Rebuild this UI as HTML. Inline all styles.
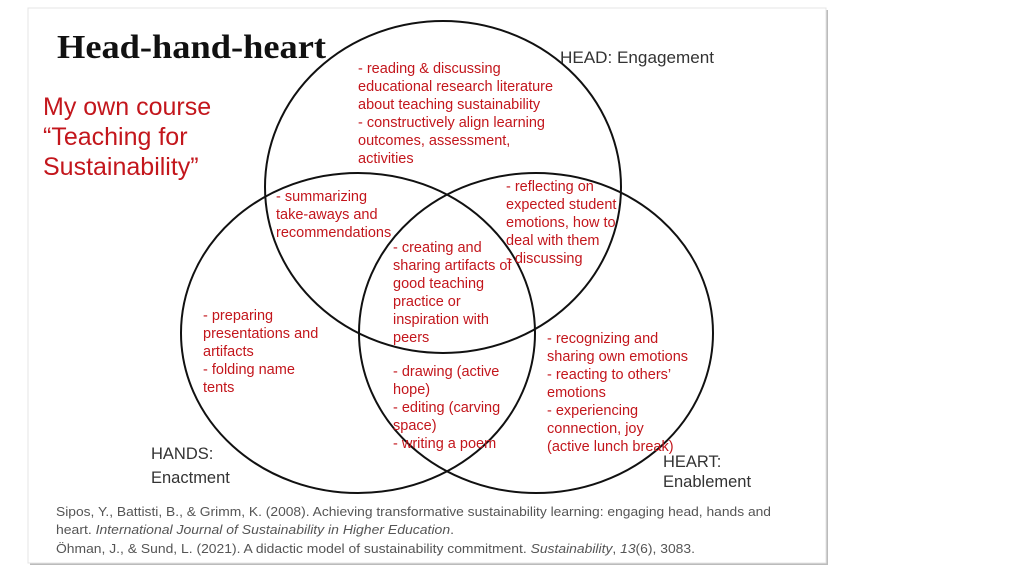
<!DOCTYPE html>
<html><head><meta charset="utf-8"><style>
html,body{margin:0;padding:0;background:#fff;}
svg{display:block;}
.r{font-family:"Liberation Sans",Arial,sans-serif;font-size:14.5px;fill:#c3161c;}
.g{font-family:"Liberation Sans",Arial,sans-serif;fill:#333;}
.c{font-family:"Liberation Sans",Arial,sans-serif;font-size:12.5px;fill:#555;}
</style></head><body>
<svg width="1024" height="576" viewBox="0 0 1024 576" xmlns="http://www.w3.org/2000/svg">
<rect x="30" y="10" width="798" height="555" fill="#bbb"/>
<rect x="28" y="8" width="798" height="555" fill="#fff" stroke="#e4e4e4" stroke-width="1"/>
<text x="57" y="58" font-family="'Liberation Serif',serif" font-weight="bold" font-size="34" fill="#111" textLength="269" lengthAdjust="spacingAndGlyphs">Head-hand-heart</text>
<g font-family="'Liberation Sans',Arial,sans-serif" font-size="25" fill="#c3161c">
<text x="43" y="115">My own course</text>
<text x="43" y="145">“Teaching for</text>
<text x="43" y="175">Sustainability”</text>
</g>
<g fill="none" stroke="#111" stroke-width="2">
<ellipse cx="443" cy="187" rx="178" ry="166"/>
<ellipse cx="358" cy="333" rx="177" ry="160"/>
<ellipse cx="536" cy="333" rx="177" ry="160"/>
</g>
<text class="g" x="560" y="63" font-size="16.5" textLength="154" lengthAdjust="spacingAndGlyphs">HEAD: Engagement</text>
<text class="g" x="151" y="459" font-size="16.5">HANDS:</text>
<text class="g" x="151" y="483" font-size="16.5">Enactment</text>
<text class="g" x="663" y="467" font-size="16.5">HEART:</text>
<text class="g" x="663" y="487" font-size="16.5">Enablement</text>
<g class="r">
<text x="358" y="73">- reading &amp; discussing</text>
<text x="358" y="91">educational research literature</text>
<text x="358" y="109">about teaching sustainability</text>
<text x="358" y="127">- constructively align learning</text>
<text x="358" y="145">outcomes, assessment,</text>
<text x="358" y="163">activities</text>
<text x="276" y="201">- summarizing</text>
<text x="276" y="219">take-aways and</text>
<text x="276" y="237">recommendations</text>
<text x="506" y="191">- reflecting on</text>
<text x="506" y="209">expected student</text>
<text x="506" y="227">emotions, how to</text>
<text x="506" y="245">deal with them</text>
<text x="506" y="263">- discussing</text>
<text x="393" y="252">- creating and</text>
<text x="393" y="270">sharing artifacts of</text>
<text x="393" y="288">good teaching</text>
<text x="393" y="306">practice or</text>
<text x="393" y="324">inspiration with</text>
<text x="393" y="342">peers</text>
<text x="203" y="320">- preparing</text>
<text x="203" y="338">presentations and</text>
<text x="203" y="356">artifacts</text>
<text x="203" y="374">- folding name</text>
<text x="203" y="392">tents</text>
<text x="393" y="376">- drawing (active</text>
<text x="393" y="394">hope)</text>
<text x="393" y="412">- editing (carving</text>
<text x="393" y="430">space)</text>
<text x="393" y="448">- writing a poem</text>
<text x="547" y="343">- recognizing and</text>
<text x="547" y="361">sharing own emotions</text>
<text x="547" y="379">- reacting to others’</text>
<text x="547" y="397">emotions</text>
<text x="547" y="415">- experiencing</text>
<text x="547" y="433">connection, joy</text>
<text x="547" y="451">(active lunch break)</text>
</g>
<text class="c" x="56" y="516" textLength="715" lengthAdjust="spacingAndGlyphs">Sipos, Y., Battisti, B., &amp; Grimm, K. (2008). Achieving transformative sustainability learning: engaging head, hands and</text>
<text class="c" x="56" y="534" textLength="398" lengthAdjust="spacingAndGlyphs">heart. <tspan font-style="italic">International Journal of Sustainability in Higher Education</tspan>.</text>
<text class="c" x="56" y="553" textLength="639" lengthAdjust="spacingAndGlyphs">Öhman, J., &amp; Sund, L. (2021). A didactic model of sustainability commitment. <tspan font-style="italic">Sustainability</tspan>, <tspan font-style="italic">13</tspan>(6), 3083.</text>
</svg>
</body></html>
